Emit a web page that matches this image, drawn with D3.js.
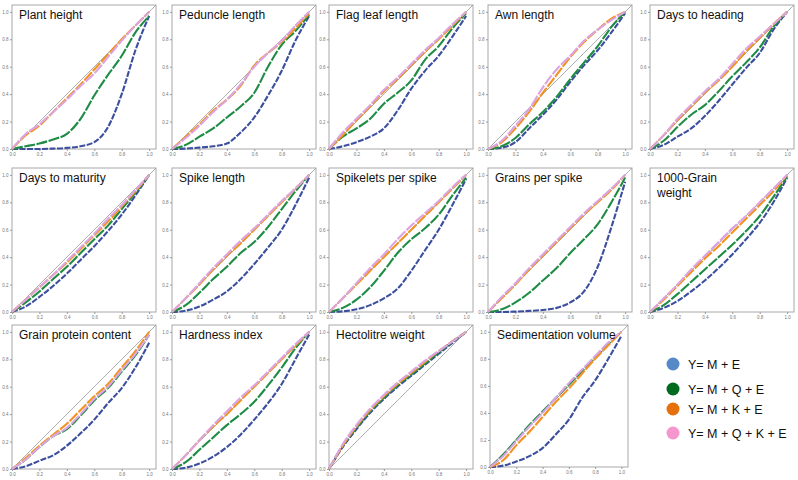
<!DOCTYPE html>
<html>
<head>
<meta charset="utf-8">
<script src="https://d3js.org/d3.v7.min.js"></script>
<style>
body { margin: 0; background: #fff; }
svg { font-family: "Liberation Sans", Arial, sans-serif; }
.tick text { fill: #777; font-size: 4.5px; }
.tick line { stroke: #999; }
</style>
</head>
<body>
<svg id="chart" width="798" height="480"></svg>
<script>
// data: expected vs observed cumulative probability, read at these x values
var traits = ["Plant height", "Peduncle length", "Flag leaf length", "Awn length", "Days to heading",
  "Days to maturity", "Spike length", "Spikelets per spike", "Grains per spike", "1000-Grain\nweight",
  "Grain protein content", "Hardness index", "Hectolitre weight", "Sedimentation volume"];
var probs = [0, 0.1, 0.2, 0.3, 0.4, 0.5, 0.6, 0.7, 0.8, 0.9, 1.0];
var seriesNames = ["Y= M + E", "Y= M + Q + E", "Y= M + K + E", "Y= M + Q + K + E"];

var yME = [
  [0, 0, 0, 0.003, 0.008, 0.02, 0.05, 0.16, 0.40, 0.72, 0.97],
  [0, 0.003, 0.01, 0.02, 0.04, 0.12, 0.23, 0.39, 0.57, 0.79, 0.97],
  [0, 0.02, 0.05, 0.09, 0.15, 0.28, 0.44, 0.57, 0.68, 0.82, 0.97],
  [0, 0.01, 0.05, 0.15, 0.25, 0.36, 0.49, 0.61, 0.72, 0.85, 0.99],
  [0, 0.03, 0.09, 0.15, 0.24, 0.35, 0.47, 0.59, 0.70, 0.87, 1.0],
  [0, 0.04, 0.11, 0.19, 0.28, 0.38, 0.48, 0.59, 0.71, 0.85, 1.0],
  [0, 0.01, 0.04, 0.09, 0.15, 0.24, 0.35, 0.47, 0.60, 0.78, 0.98],
  [0, 0.005, 0.02, 0.05, 0.10, 0.17, 0.30, 0.45, 0.60, 0.78, 0.97],
  [0, 0, 0.003, 0.008, 0.015, 0.03, 0.07, 0.15, 0.33, 0.62, 0.95],
  [0, 0.03, 0.08, 0.15, 0.23, 0.32, 0.42, 0.53, 0.65, 0.80, 0.98],
  [0, 0.02, 0.06, 0.10, 0.17, 0.26, 0.36, 0.48, 0.59, 0.74, 0.92],
  [0, 0.01, 0.04, 0.09, 0.16, 0.25, 0.36, 0.48, 0.62, 0.80, 0.98],
  [0, 0.16, 0.29, 0.41, 0.51, 0.60, 0.68, 0.76, 0.84, 0.92, 1.0],
  [0, 0.01, 0.04, 0.08, 0.14, 0.24, 0.35, 0.51, 0.64, 0.80, 0.97]
];
var yMQE = [
  [0, 0.02, 0.04, 0.07, 0.11, 0.22, 0.39, 0.54, 0.68, 0.85, 0.97],
  [0, 0.03, 0.09, 0.15, 0.23, 0.31, 0.41, 0.60, 0.76, 0.86, 0.98],
  [0, 0.09, 0.15, 0.22, 0.33, 0.41, 0.50, 0.65, 0.75, 0.88, 0.99],
  [0, 0.02, 0.08, 0.18, 0.27, 0.38, 0.51, 0.63, 0.75, 0.89, 1.0],
  [0, 0.06, 0.16, 0.25, 0.32, 0.42, 0.53, 0.63, 0.74, 0.89, 1.0],
  [0, 0.07, 0.15, 0.24, 0.33, 0.43, 0.53, 0.63, 0.75, 0.87, 1.0],
  [0, 0.05, 0.14, 0.24, 0.33, 0.43, 0.51, 0.62, 0.75, 0.88, 1.0],
  [0, 0.03, 0.09, 0.18, 0.30, 0.43, 0.53, 0.61, 0.71, 0.85, 0.98],
  [0, 0.02, 0.07, 0.14, 0.23, 0.32, 0.43, 0.53, 0.64, 0.80, 0.98],
  [0, 0.05, 0.13, 0.22, 0.31, 0.40, 0.49, 0.59, 0.70, 0.84, 0.99],
  [0, 0.07, 0.16, 0.24, 0.29, 0.39, 0.50, 0.59, 0.71, 0.83, 0.98],
  [0, 0.05, 0.14, 0.23, 0.32, 0.40, 0.49, 0.61, 0.74, 0.88, 1.0],
  [0, 0.17, 0.30, 0.42, 0.52, 0.61, 0.69, 0.77, 0.85, 0.93, 1.0],
  [0, 0.09, 0.20, 0.31, 0.41, 0.51, 0.61, 0.71, 0.81, 0.91, 1.0]
];
var yMKE = [
  [0, 0.10, 0.17, 0.27, 0.37, 0.47, 0.58, 0.69, 0.80, 0.90, 1.0],
  [0, 0.09, 0.18, 0.28, 0.36, 0.46, 0.61, 0.70, 0.78, 0.88, 0.99],
  [0, 0.10, 0.21, 0.31, 0.42, 0.51, 0.61, 0.71, 0.80, 0.90, 1.0],
  [0, 0.05, 0.15, 0.27, 0.41, 0.54, 0.67, 0.78, 0.87, 0.95, 1.0],
  [0, 0.10, 0.21, 0.31, 0.41, 0.50, 0.60, 0.71, 0.81, 0.91, 1.0],
  [0, 0.09, 0.18, 0.27, 0.36, 0.46, 0.56, 0.66, 0.77, 0.88, 1.0],
  [0, 0.10, 0.20, 0.31, 0.41, 0.50, 0.60, 0.70, 0.80, 0.90, 1.0],
  [0, 0.10, 0.20, 0.30, 0.40, 0.50, 0.60, 0.70, 0.80, 0.90, 1.0],
  [0, 0.10, 0.20, 0.31, 0.41, 0.51, 0.61, 0.71, 0.80, 0.89, 1.0],
  [0, 0.09, 0.19, 0.29, 0.39, 0.48, 0.58, 0.68, 0.78, 0.88, 1.0],
  [0, 0.08, 0.17, 0.25, 0.33, 0.43, 0.53, 0.62, 0.74, 0.86, 1.0],
  [0, 0.10, 0.21, 0.31, 0.40, 0.50, 0.60, 0.70, 0.80, 0.90, 1.0],
  [0, 0.17, 0.31, 0.43, 0.53, 0.62, 0.70, 0.78, 0.86, 0.93, 1.0],
  [0, 0.05, 0.16, 0.26, 0.37, 0.48, 0.58, 0.69, 0.80, 0.90, 1.0]
];
var yMQKE = [
  [0, 0.11, 0.18, 0.27, 0.36, 0.46, 0.55, 0.67, 0.79, 0.90, 1.0],
  [0, 0.08, 0.17, 0.27, 0.36, 0.47, 0.60, 0.70, 0.79, 0.90, 1.0],
  [0, 0.12, 0.22, 0.32, 0.43, 0.52, 0.62, 0.72, 0.81, 0.91, 1.0],
  [0, 0.06, 0.17, 0.29, 0.45, 0.58, 0.68, 0.79, 0.87, 0.94, 1.0],
  [0, 0.10, 0.22, 0.32, 0.42, 0.51, 0.62, 0.73, 0.82, 0.91, 1.0],
  [0, 0.09, 0.18, 0.27, 0.37, 0.47, 0.57, 0.68, 0.78, 0.89, 1.0],
  [0, 0.10, 0.21, 0.32, 0.42, 0.52, 0.61, 0.71, 0.81, 0.90, 1.0],
  [0, 0.10, 0.21, 0.32, 0.42, 0.53, 0.63, 0.72, 0.81, 0.91, 1.0],
  [0, 0.11, 0.21, 0.32, 0.42, 0.52, 0.62, 0.72, 0.81, 0.90, 1.0],
  [0, 0.10, 0.20, 0.31, 0.41, 0.51, 0.61, 0.70, 0.80, 0.90, 1.0],
  [0, 0.07, 0.16, 0.24, 0.30, 0.40, 0.51, 0.60, 0.72, 0.84, 0.98],
  [0, 0.10, 0.21, 0.32, 0.42, 0.52, 0.61, 0.71, 0.81, 0.91, 1.0],
  [0, 0.18, 0.32, 0.44, 0.54, 0.63, 0.71, 0.79, 0.86, 0.93, 1.0],
  [0, 0.08, 0.19, 0.30, 0.40, 0.51, 0.62, 0.72, 0.82, 0.92, 1.0]
];
var allSeries = [yME, yMQE, yMKE, yMQKE];

var lineColors = ["#3c4f9e", "#1f8c45", "#f2921f", "#dca4e0"];
var legendColors = ["#5689c7", "#006a1e", "#e5700c", "#f596cf"];

// layout
var colX = [12, 172, 329, 488, 650];
var rowY = [5, 168, 325];
var size = 144;

var svg = d3.select("#chart");

traits.forEach(function(name, i){
  var left = colX[i % 5], top = rowY[Math.floor(i / 5)];
  var w = size, h = size;
  if(i === 13){ w = 138; h = 142; left = 490; }

  var x = d3.scaleLinear().domain([0, 1.05]).range([0, w]);
  var y = d3.scaleLinear().domain([0, 1.05]).range([h, 0]);

  var g = svg.append("g").attr("transform", "translate(" + left + "," + top + ")");

  g.append("rect").attr("width", w).attr("height", h)
    .attr("fill", "#fff").attr("stroke", "#a8a8a8").attr("stroke-width", 1);

  var ticks = [0, 0.2, 0.4, 0.6, 0.8, 1.0];
  g.append("g").attr("transform", "translate(0," + h + ")")
    .call(d3.axisBottom(x).tickValues(ticks).tickSize(2).tickPadding(1.5).tickFormat(d3.format(".1f")))
    .call(function(a){ a.select(".domain").remove(); });
  g.append("g")
    .call(d3.axisLeft(y).tickValues(ticks).tickSize(2).tickPadding(1.5).tickFormat(d3.format(".1f")))
    .call(function(a){ a.select(".domain").remove(); });

  // reference diagonal
  g.append("line")
    .attr("x1", x(0)).attr("y1", y(0)).attr("x2", x(1.05)).attr("y2", y(1.05))
    .attr("stroke", "#9a9a9a").attr("stroke-width", 0.8);

  var line = d3.line()
    .x(function(d, k){ return x(probs[k]); })
    .y(function(d){ return y(d); })
    .curve(d3.curveMonotoneX);

  allSeries.forEach(function(s, j){
    g.append("path").datum(s[i])
      .attr("d", line)
      .attr("fill", "none")
      .attr("stroke", lineColors[j])
      .attr("stroke-width", 2.1)
      .attr("stroke-dasharray", j === 0 ? "6,1.5" : "11,1.5");
  });

  var t = g.append("text").attr("x", 7).attr("y", 14)
    .attr("font-size", "12px").attr("fill", "#111");
  name.split("\n").forEach(function(part, k){
    t.append("tspan").attr("x", 7).attr("dy", k === 0 ? 0 : 15).text(part);
  });
});

// legend
var legendY = [364, 389, 409, 433];
var legend = svg.append("g");
seriesNames.forEach(function(n, j){
  legend.append("circle").attr("cx", 673).attr("cy", legendY[j]).attr("r", 6.5)
    .attr("fill", legendColors[j]);
  legend.append("text").attr("x", 688).attr("y", legendY[j] + 4.5)
    .attr("font-size", "12.5px").attr("fill", "#111").text(n);
});
</script>
</body>
</html>
